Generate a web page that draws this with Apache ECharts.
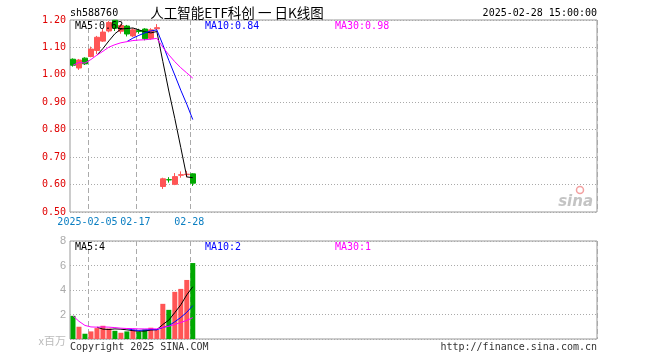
<!DOCTYPE html>
<html><head><meta charset="utf-8">
<script src="https://cdn.jsdelivr.net/npm/echarts@6/dist/echarts.min.js"></script>
<style>html,body{margin:0;padding:0;background:#fff}#c{width:660px;height:360px}</style>
</head><body><div id="c"></div>
<script>
// ---- data ----
const dates = ['2025-01-23','2025-01-24','2025-01-27','2025-02-05','2025-02-06','2025-02-07','2025-02-10','2025-02-11','2025-02-12','2025-02-13','2025-02-14','2025-02-17','2025-02-18','2025-02-19','2025-02-20','2025-02-21','2025-02-24','2025-02-25','2025-02-26','2025-02-27','2025-02-28'];
const open  = [1.057,1.025,1.061,1.067,1.089,1.123,1.160,1.199,1.159,1.178,1.142,1.161,1.167,1.133,1.168,0.593,0.618,0.601,0.634,0.636,0.639];
const close = [1.035,1.054,1.040,1.094,1.137,1.156,1.191,1.170,1.180,1.149,1.164,1.158,1.132,1.164,1.172,0.621,0.617,0.629,0.636,0.638,0.605];
const low   = [1.030,1.018,1.036,1.064,1.076,1.120,1.155,1.160,1.150,1.140,1.138,1.150,1.126,1.128,1.162,0.584,0.607,0.598,0.625,0.626,0.595];
const high  = [1.060,1.058,1.064,1.103,1.142,1.167,1.196,1.200,1.185,1.182,1.170,1.168,1.170,1.170,1.185,0.625,0.627,0.642,0.648,0.650,0.641];
const ma5  = [null,null,null,null,1.072,1.096,1.124,1.150,1.167,1.169,1.171,1.164,1.157,1.153,1.158,1.049,0.941,0.841,0.735,0.628,0.625];
const ma10 = [null,null,null,null,null,null,null,null,null,1.121,1.134,1.144,1.153,1.160,1.164,1.110,1.053,0.999,0.944,0.893,0.837];
const ma30 = [1.035,1.045,1.043,1.056,1.072,1.086,1.101,1.110,1.117,1.121,1.125,1.127,1.128,1.130,1.133,1.101,1.073,1.048,1.026,1.007,0.988];
const volume = [1.89,1.00,0.43,0.62,0.89,1.08,0.86,0.67,0.51,0.62,0.76,0.59,0.78,0.92,0.76,2.87,2.38,3.85,4.09,4.82,6.20];
const volMa5  = [null,null,null,null,0.966,0.804,0.776,0.824,0.802,0.748,0.684,0.630,0.652,0.734,0.762,1.184,1.542,2.156,2.790,3.602,4.268];
const volMa10 = [null,null,null,null,null,null,null,null,null,0.857,0.744,0.703,0.738,0.768,0.755,0.934,1.086,1.404,1.762,2.182,2.726];
const volMa30 = [1.890,1.445,1.107,0.985,0.966,0.985,0.967,0.930,0.883,0.857,0.848,0.827,0.823,0.830,0.825,0.953,1.037,1.193,1.346,1.520,1.742];
const xTickDates  = ['2025-02-05','2025-02-17','2025-02-28'];
const xTickLabels = ['2025-02-05','02-17','02-28'];
const priceAxis = {min:0.5, max:1.2, step:0.1};
const volAxis = {min:0, max:8, step:2};
const maPriceLabels = ['MA5:0.62','MA10:0.84','MA30:0.98'];
const maVolLabels = ['MA5:4','MA10:2','MA30:1'];

// ---- layout / style ----
const SLOTS = 88;
const RED = '#ff5555', GREEN = '#00a800';
const MONO = '"DejaVu Sans Mono", "Liberation Mono", monospace';
const cats = dates.slice();
for (let i = dates.length; i < SLOTS; i++) cats.push('_' + i);
const isTick = (idx, val) => xTickDates.indexOf(val) >= 0;

const candleData = dates.map((d,i)=>[open[i], close[i], low[i], high[i]]);
const volData = volume.map((v,i)=>({value:v, itemStyle:{color: close[i] >= open[i] ? RED : GREEN}}));

function xAxisCfg(gi, showLabel){
  return {
    type:'category', gridIndex:gi, data:cats, boundaryGap:true,
    axisLine:{show:false}, axisTick:{show:false},
    axisLabel:{show:showLabel, interval:isTick, margin:5, padding:[0,7,0,0],
      color:'#0a7ec2', fontFamily:MONO, fontSize:10,
      formatter:(v)=>{const k=xTickDates.indexOf(v); return k>=0?xTickLabels[k]:'';}},
    splitLine:{show:true, interval:isTick, lineStyle:{color:'#aaaaaa', type:[5,3], width:1}}
  };
}
function lineS(name, data, color, xi, yi){
  return {name, type:'line', data, xAxisIndex:xi, yAxisIndex:yi, symbol:'none',
    lineStyle:{color, width:1}, itemStyle:{color}, connectNulls:false, silent:true, z:5};
}
function txt(text, x, y, color, align, font){
  return {type:'text', style:{text, x, y, fill:color, font: font || ('10px ' + MONO),
    textAlign:align||'left', textVerticalAlign:'middle', align:align||'left', verticalAlign:'middle'}, z:100};
}

const chart = echarts.init(document.getElementById('c'), null, {renderer:'canvas'});
chart.setOption({
  animation:false,
  backgroundColor:'#ffffff',
  grid:[
    {left:70, top:20, width:527, height:192, show:true, borderColor:'#999999', borderWidth:1},
    {left:70, top:241, width:527, height:98, show:true, borderColor:'#999999', borderWidth:1}
  ],
  xAxis:[xAxisCfg(0,true), xAxisCfg(1,false)],
  yAxis:[
    {type:'value', gridIndex:0, min:priceAxis.min, max:priceAxis.max, interval:priceAxis.step,
      axisLine:{show:false}, axisTick:{show:false},
      axisLabel:{color:'#e00000', fontFamily:MONO, fontSize:10, margin:4, formatter:(v)=>v.toFixed(2)},
      splitLine:{show:true, lineStyle:{color:'#aaaaaa', type:[1,2], width:1}}},
    {type:'value', gridIndex:1, min:volAxis.min, max:volAxis.max, interval:volAxis.step,
      axisLine:{show:false}, axisTick:{show:false},
      axisLabel:{color:'#aaaaaa', fontFamily:'"Liberation Sans", Arial, sans-serif', fontSize:11, margin:4,
        formatter:(v)=> v===0 ? '' : String(v)},
      splitLine:{show:true, lineStyle:{color:'#aaaaaa', type:[1,2], width:1}}}
  ],
  series:[
    {type:'candlestick', xAxisIndex:0, yAxisIndex:0, data:candleData, barWidth:5, clip:true,
      itemStyle:{color:RED, color0:GREEN, borderColor:RED, borderColor0:GREEN, borderWidth:1}, z:3},
    lineS('MA5', ma5, '#000000', 0, 0),
    lineS('MA10', ma10, '#0000ff', 0, 0),
    lineS('MA30', ma30, '#ff00ff', 0, 0),
    {type:'bar', xAxisIndex:1, yAxisIndex:1, data:volData, barWidth:5, silent:true, z:3},
    lineS('VMA5', volMa5, '#000000', 1, 1),
    lineS('VMA10', volMa10, '#0000ff', 1, 1),
    lineS('VMA30', volMa30, '#ff00ff', 1, 1)
  ],
  graphic:[
    txt('sh588760', 70, 13, '#000'),
    txt('人工智能ETF科创 一 日K线图', 237, 13, '#000', 'center', '13.5px "Noto Sans CJK SC", sans-serif'),
    txt('2025-02-28 15:00:00', 597, 13, '#000', 'right'),
    txt(maPriceLabels[0], 75, 26, '#000000'),
    txt(maPriceLabels[1], 205, 26, '#0000ff'),
    txt(maPriceLabels[2], 335, 26, '#ff00ff'),
    txt(maVolLabels[0], 75, 247, '#000000'),
    txt(maVolLabels[1], 205, 247, '#0000ff'),
    txt(maVolLabels[2], 335, 247, '#ff00ff'),
    txt('x百万', 66, 341, '#bbbbbb', 'right', '11px "Noto Sans CJK SC", sans-serif'),
    txt('Copyright 2025 SINA.COM', 70, 347, '#333333'),
    txt('http://finance.sina.com.cn', 597, 347, '#333333', 'right'),
    txt('sina', 593, 202, '#c4c4c4', 'right', 'italic bold 15px "DejaVu Sans", sans-serif'),
    {type:'circle', shape:{cx:580, cy:190, r:3.5}, style:{fill:'none', stroke:'#f3a0a0', lineWidth:1.5}, z:99}
  ]
});
</script></body></html>
